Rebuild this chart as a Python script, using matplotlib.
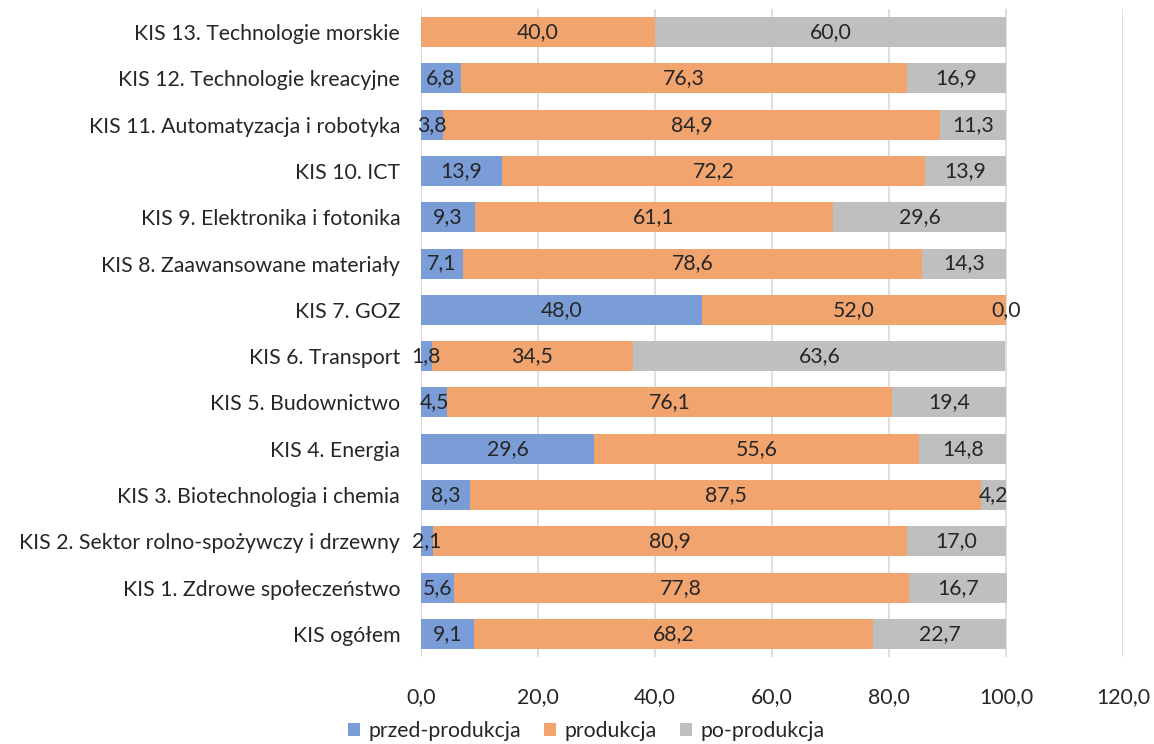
import numpy as np
import matplotlib
matplotlib.use("Agg")
import matplotlib.pyplot as plt

plt.rcParams['font.family'] = ['Lato', 'DejaVu Sans']

# Categories listed from bottom to top of the chart
categories = [
    "KIS ogółem",
    "KIS 1. Zdrowe społeczeństwo",
    "KIS 2. Sektor rolno-spożywczy i drzewny",
    "KIS 3. Biotechnologia i chemia",
    "KIS 4. Energia",
    "KIS 5. Budownictwo",
    "KIS 6. Transport",
    "KIS 7. GOZ",
    "KIS 8. Zaawansowane materiały",
    "KIS 9. Elektronika i fotonika",
    "KIS 10. ICT",
    "KIS 11. Automatyzacja i robotyka",
    "KIS 12. Technologie kreacyjne",
    "KIS 13. Technologie morskie",
]

przed_produkcja = [9.1, 5.6, 2.1, 8.3, 29.6, 4.5, 1.8, 48.0, 7.1, 9.3, 13.9, 3.8, 6.8, np.nan]
produkcja = [68.2, 77.8, 80.9, 87.5, 55.6, 76.1, 34.5, 52.0, 78.6, 61.1, 72.2, 84.9, 76.3, 40.0]
po_produkcja = [22.7, 16.7, 17.0, 4.2, 14.8, 19.4, 63.6, 0.0, 14.3, 29.6, 13.9, 11.3, 16.9, 60.0]

series_names = ["przed-produkcja", "produkcja", "po-produkcja"]
colors = ["#7A9DD7", "#F2A46F", "#BFBFBF"]

x_ticks = [0, 20, 40, 60, 80, 100, 120]

fig = plt.figure(figsize=(11.54, 7.44), dpi=100)
ax = fig.add_axes([0.3648, 0.1169, 0.6083, 0.8710])

y = np.arange(len(categories))
left = np.zeros(len(categories))
fs = 15.3
for name, vals, col in zip(series_names, [przed_produkcja, produkcja, po_produkcja], colors):
    v = np.array(vals, dtype=float)
    w = np.nan_to_num(v)
    ax.barh(y, w, left=left, height=0.65, color=col, label=name, zorder=2)
    for yi, (val, l0) in enumerate(zip(v, left)):
        if np.isnan(val):
            continue
        ax.text(l0 + val / 2, yi, f"{val:.1f}".replace(".", ","),
                ha="center", va="center", fontsize=fs, color="#262626", zorder=3)
    left = left + w

ax.set_xlim(0, 120)
ax.set_ylim(-0.5, len(categories) - 0.5)
ax.set_xticks(x_ticks)
ax.set_xticklabels([f"{t:.1f}".replace(".", ",") for t in x_ticks], fontsize=fs, color="#262626")
ax.set_yticks(y)
ax.set_yticklabels(categories, fontsize=fs, color="#262626")
ax.tick_params(axis="both", length=0)
ax.tick_params(axis="y", pad=15)
ax.tick_params(axis="x", pad=22)
ax.grid(axis="x", color="#D9D9D9", linewidth=1.2, zorder=0)
for s in ax.spines.values():
    s.set_visible(False)

fig.legend(loc="lower center", bbox_to_anchor=(0.508, -0.022), ncol=3, frameon=False,
           fontsize=fs, handlelength=0.55, handleheight=0.55, handletextpad=0.4,
           columnspacing=1.1, labelcolor="#262626")

fig.savefig("out.png", dpi=100)
